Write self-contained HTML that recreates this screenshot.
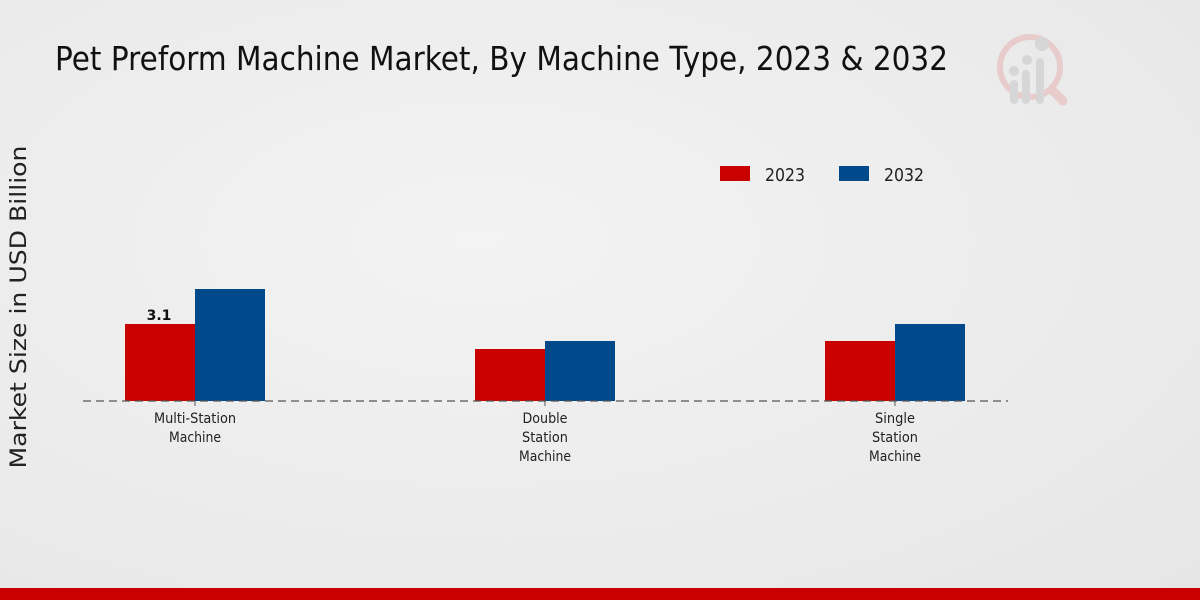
<!DOCTYPE html>
<html><head><style>
html,body{margin:0;padding:0}
body{width:1200px;height:600px;overflow:hidden;background:radial-gradient(ellipse at 40% 40%,#f3f3f3 0%,#e6e6e6 100%);font-family:"DejaVu Sans","Liberation Sans",sans-serif}
</style></head><body>
<svg width="1200" height="600" viewBox="0 0 1200 600" xmlns="http://www.w3.org/2000/svg" style="position:absolute;left:0;top:0">
<text x="55" y="70" font-size="33" fill="#111" textLength="893" lengthAdjust="spacingAndGlyphs">Pet Preform Machine Market, By Machine Type, 2023 &amp; 2032</text>
<g opacity="0.9">
<circle cx="1030" cy="67" r="30" fill="none" stroke="#e8c8c8" stroke-width="6"/>
<line x1="1052" y1="90" x2="1063" y2="101" stroke="#e8c8c8" stroke-width="9" stroke-linecap="round"/>
<rect x="1010" y="80" width="8" height="24" rx="4" fill="#d4d4d4"/>
<rect x="1022" y="70" width="8" height="34" rx="4" fill="#d4d4d4"/>
<rect x="1036" y="58" width="8" height="46" rx="4" fill="#d4d4d4"/>
<circle cx="1014" cy="71" r="5" fill="#d4d4d4"/><circle cx="1027" cy="60" r="5" fill="#d4d4d4"/><circle cx="1042" cy="44" r="7" fill="#d4d4d4"/>
</g>
<text transform="translate(26,307) rotate(-90)" text-anchor="middle" font-size="22" fill="#222" textLength="323" lengthAdjust="spacingAndGlyphs">Market Size in USD Billion</text>
<rect x="720" y="166" width="30" height="15" fill="#c80000"/>
<text x="765" y="181" font-size="18" fill="#222" textLength="40" lengthAdjust="spacingAndGlyphs">2023</text>
<rect x="839" y="166" width="30" height="15" fill="#004a8b"/>
<text x="884" y="181" font-size="18" fill="#222" textLength="40" lengthAdjust="spacingAndGlyphs">2032</text>
<rect x="125" y="324" width="70" height="77" fill="#c80000"/>
<rect x="195" y="289" width="70" height="112" fill="#004a8b"/>
<rect x="475" y="349" width="70" height="52" fill="#c80000"/>
<rect x="545" y="341" width="70" height="60" fill="#004a8b"/>
<rect x="825" y="341" width="70" height="60" fill="#c80000"/>
<rect x="895" y="324" width="70" height="77" fill="#004a8b"/>
<line x1="83" y1="401" x2="1008" y2="401" stroke="#555" stroke-width="1.3" stroke-dasharray="8,5"/>
<g stroke="#555"><line x1="195" y1="401" x2="195" y2="406"/><line x1="545" y1="401" x2="545" y2="406"/><line x1="895" y1="401" x2="895" y2="406"/></g>
<text x="159" y="320" font-size="14" font-weight="bold" text-anchor="middle" fill="#111">3.1</text>
<g font-size="14" fill="#222" text-anchor="middle" lengthAdjust="spacingAndGlyphs">
<text x="195" y="423" textLength="82" lengthAdjust="spacingAndGlyphs">Multi-Station</text><text x="195" y="442" textLength="52" lengthAdjust="spacingAndGlyphs">Machine</text>
<text x="545" y="423" textLength="45" lengthAdjust="spacingAndGlyphs">Double</text><text x="545" y="442" textLength="46" lengthAdjust="spacingAndGlyphs">Station</text><text x="545" y="461" textLength="52" lengthAdjust="spacingAndGlyphs">Machine</text>
<text x="895" y="423" textLength="40" lengthAdjust="spacingAndGlyphs">Single</text><text x="895" y="442" textLength="46" lengthAdjust="spacingAndGlyphs">Station</text><text x="895" y="461" textLength="52" lengthAdjust="spacingAndGlyphs">Machine</text>
</g>
<rect x="0" y="588" width="1200" height="12" fill="#c80000"/>
</svg>
</body></html>
